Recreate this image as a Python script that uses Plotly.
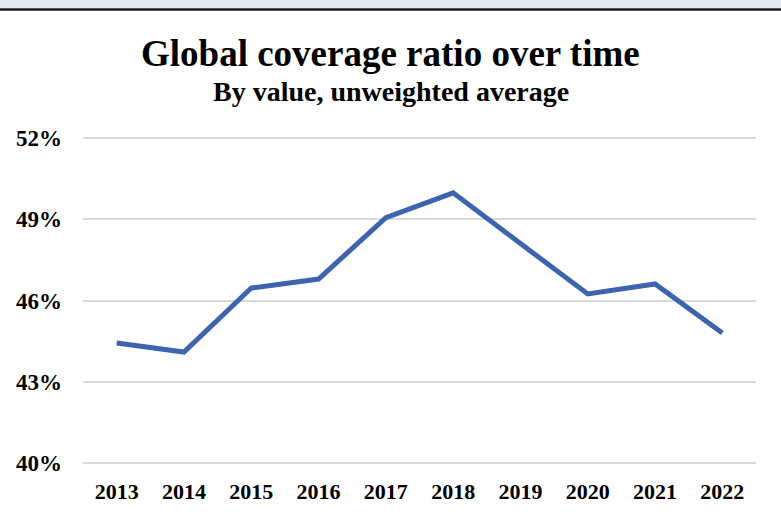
"""Global coverage ratio over time - line chart."""

import plotly.graph_objects as go

_FONT = dict(family="Liberation Serif, Times New Roman, serif", color="#000000")

years = ["2013", "2014", "2015", "2016", "2017", "2018", "2019", "2020", "2021", "2022"]
coverage_pct = [44.43, 44.10, 46.46, 46.79, 49.05, 49.97, 48.10, 46.24, 46.61, 44.80]
y_ticks = [40, 43, 46, 49, 52]
y_tick_labels = ["40%", "43%", "46%", "49%", "52%"]

W, H = 781, 518
M_L, M_R, M_T, M_B = 83, 25, 135, 52
plot_h = H - M_T - M_B
plot_w = W - M_L - M_R


def py_to_paper(py):
    """Pixel row (from top) to paper y coordinate."""
    return (H - M_B - py) / plot_h


fig = go.Figure()
fig.add_trace(go.Scatter(
    x=years,
    y=coverage_pct,
    mode="lines",
    line=dict(color="#3f64ae", width=5),
    hoverinfo="skip",
))

# light header band and rule at the top of the frame
fig.add_shape(type="rect", xref="paper", yref="paper",
              x0=-M_L / plot_w, x1=(W - M_L) / plot_w,
              y0=py_to_paper(8), y1=py_to_paper(0),
              fillcolor="#dfe8f3", line_width=0, layer="below")
fig.add_shape(type="line", xref="paper", yref="paper",
              x0=-M_L / plot_w, x1=(W - M_L) / plot_w,
              y0=py_to_paper(9.5), y1=py_to_paper(9.5),
              line=dict(color="#1a1a1a", width=2.5))

fig.add_annotation(text="<b>Global coverage ratio over time</b>",
                   xref="paper", yref="paper", x=(W / 2 - M_L) / plot_w,
                   y=py_to_paper(53), xanchor="center", yanchor="middle",
                   showarrow=False, font=dict(size=37, **_FONT))
fig.add_annotation(text="<b>By value, unweighted average</b>",
                   xref="paper", yref="paper", x=(W / 2 - M_L) / plot_w,
                   y=py_to_paper(91), xanchor="center", yanchor="middle",
                   showarrow=False, font=dict(size=28, **_FONT))

fig.update_layout(
    width=W, height=H,
    margin=dict(l=M_L, r=M_R, t=M_T, b=M_B),
    paper_bgcolor="white",
    plot_bgcolor="white",
    showlegend=False,
    font=_FONT,
)
fig.update_xaxes(
    type="category",
    range=[-0.5, 9.5],
    showgrid=False,
    showline=False,
    zeroline=False,
    ticks="",
    tickfont=dict(size=22, **_FONT),
    ticklabelstandoff=10,
    tickprefix="<b>", ticksuffix="</b>",
)
fig.update_yaxes(
    range=[39.9, 52.1],
    tickvals=y_ticks,
    ticktext=[f"<b>{t}</b>" for t in y_tick_labels],
    showgrid=True,
    gridcolor="#d9d9d9",
    gridwidth=1.5,
    zeroline=False,
    showline=False,
    ticks="",
    tickfont=dict(size=23, **_FONT),
    ticklabelstandoff=20,
)

fig.write_html(
    "out.html",
    config={"displayModeBar": False},
    post_script="document.body.style.margin = '0';",
)
